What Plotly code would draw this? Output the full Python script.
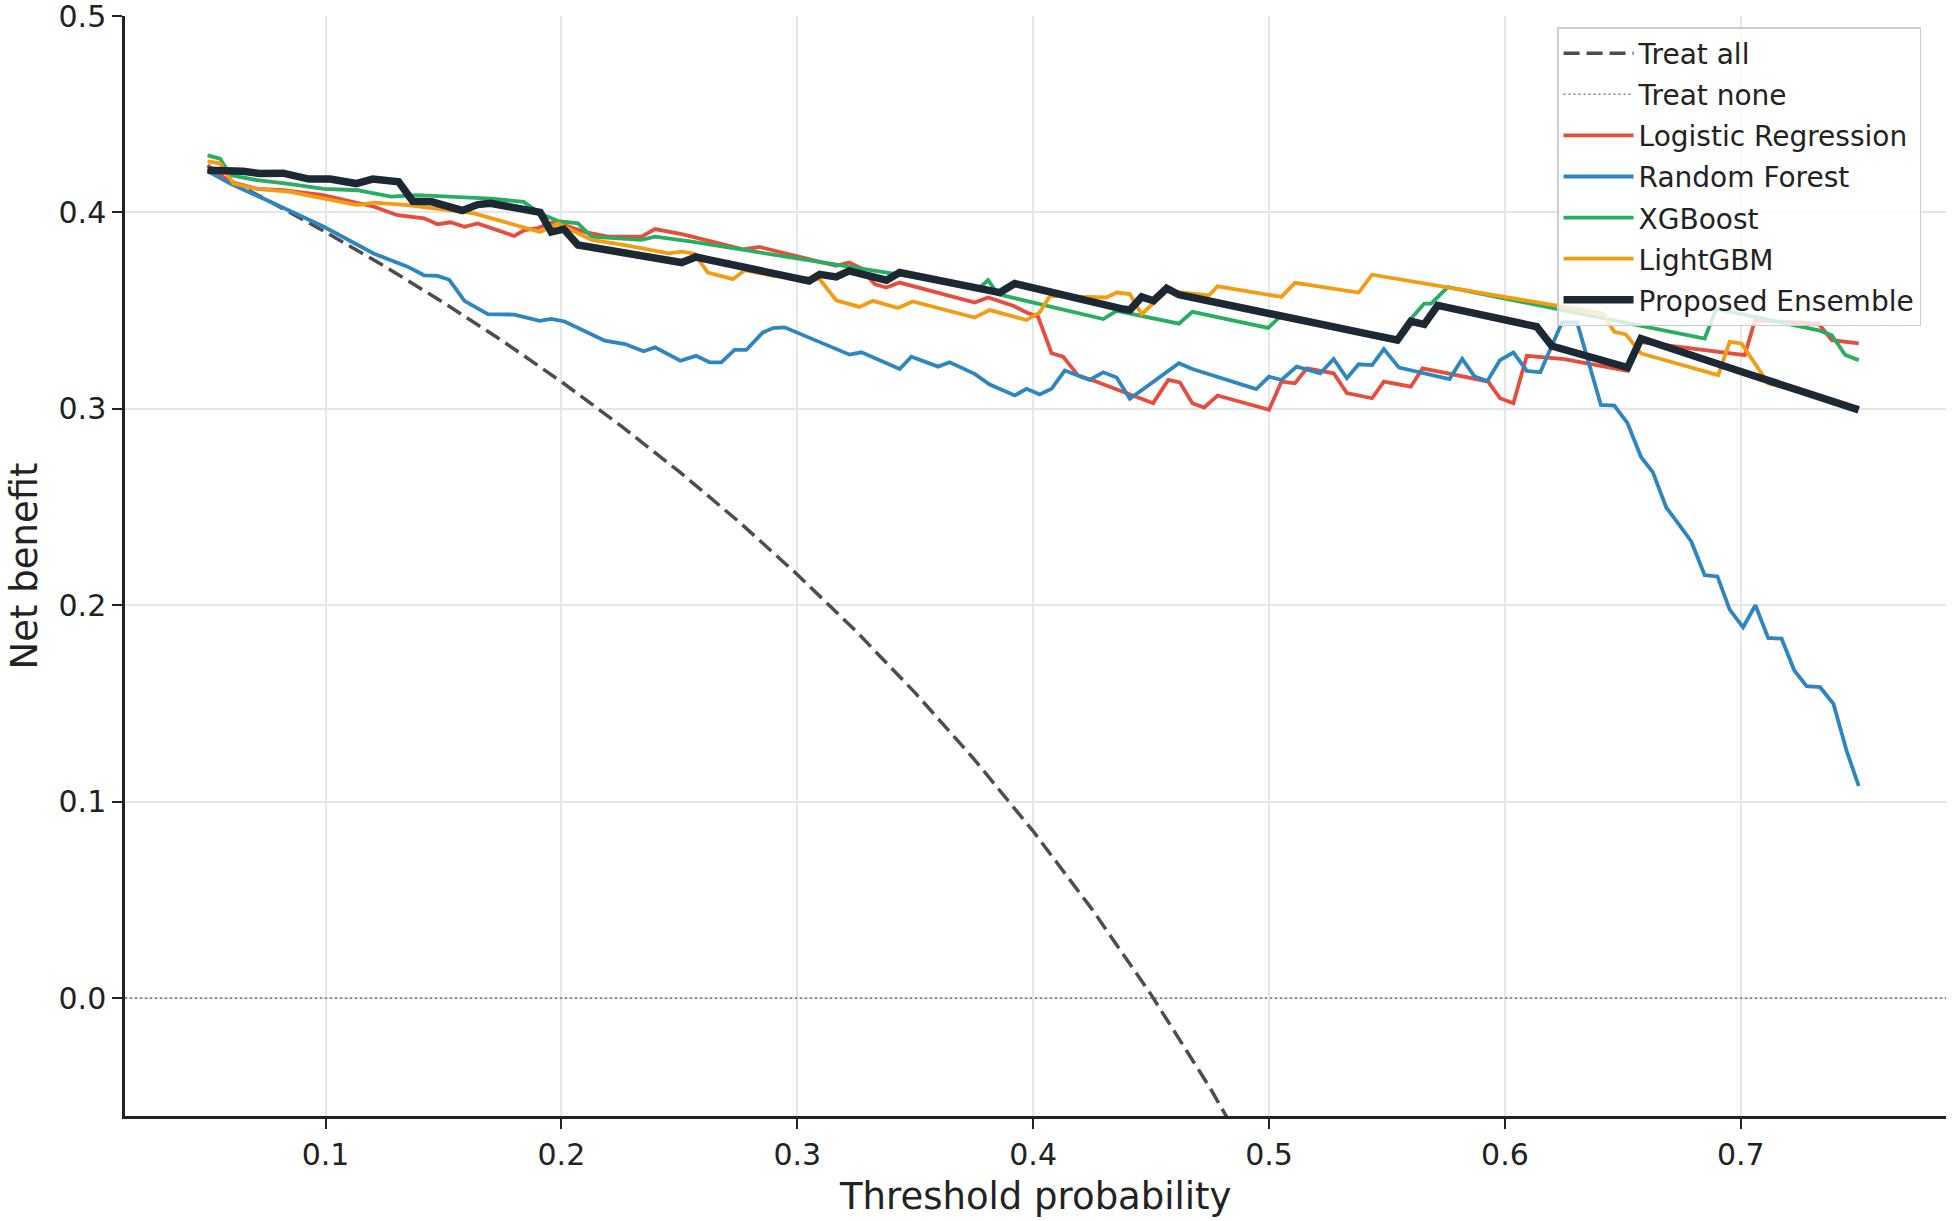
import plotly.graph_objects as go

# ---------------- data ----------------
treat_all_t = [0.05, 0.075, 0.10, 0.125, 0.15, 0.175, 0.20, 0.225, 0.25, 0.275, 0.30,
               0.325, 0.35, 0.375, 0.40, 0.425, 0.45, 0.475, 0.50]
treat_all_nb = [0.422, 0.4065, 0.390, 0.3726, 0.3541, 0.3346, 0.3138, 0.2916, 0.268, 0.2428,
                0.2157, 0.1867, 0.1554, 0.1216, 0.085, 0.0452, 0.0018, -0.0457, -0.098]

treat_none_t = [0.015, 0.787]
treat_none_nb = [0.0, 0.0]

lr_t = [0.05, 0.0596, 0.071, 0.082, 0.099, 0.1135, 0.1206, 0.1305, 0.1418, 0.1475, 0.153,
        0.1589, 0.1645, 0.180, 0.1844, 0.190, 0.197, 0.21, 0.2199, 0.234, 0.2397, 0.2515,
        0.277, 0.284, 0.3165, 0.322, 0.327, 0.3328, 0.3378, 0.3434, 0.3752, 0.3809, 0.3915,
        0.3972, 0.4021, 0.4078, 0.4127, 0.4191, 0.4255, 0.4509, 0.4573, 0.4622, 0.4675,
        0.4725, 0.4782, 0.50, 0.5053, 0.511, 0.516, 0.5274, 0.533, 0.5437, 0.5487, 0.5601,
        0.5651, 0.5758, 0.5872, 0.5929, 0.5979, 0.6036, 0.6093, 0.6251, 0.652, 0.6577,
        0.7017, 0.706, 0.733, 0.7386, 0.75]
lr_nb = [0.424, 0.4156, 0.412, 0.4113, 0.4088, 0.4046, 0.4029, 0.3986, 0.397, 0.394, 0.395,
         0.3927, 0.3944, 0.388, 0.391, 0.392, 0.3953, 0.390, 0.3877, 0.3877, 0.3915, 0.3888,
         0.3812, 0.3824, 0.3728, 0.3745, 0.3716, 0.3635, 0.3618, 0.3643, 0.3541, 0.3567, 0.3525,
         0.3491, 0.3469, 0.3283, 0.3266, 0.3169, 0.3144, 0.3029, 0.3147, 0.3135, 0.3029,
         0.3007, 0.3068, 0.2995, 0.3139, 0.313, 0.3206, 0.3181, 0.308, 0.3054, 0.3139, 0.3113,
         0.3206, 0.3181, 0.3156, 0.3139, 0.3054, 0.3029, 0.327, 0.3253, 0.3193, 0.334,
         0.3274, 0.3451, 0.3434, 0.335, 0.3333]

rf_t = [0.05, 0.0596, 0.0766, 0.0993, 0.1206, 0.1348, 0.1418, 0.1475, 0.1525, 0.1589, 0.1688,
        0.180, 0.1908, 0.1957, 0.2014, 0.2184, 0.227, 0.2348, 0.2397, 0.2504, 0.2571, 0.2628,
        0.2678, 0.2734, 0.2784, 0.2854, 0.2897, 0.2946, 0.3222, 0.3272, 0.3434, 0.3484, 0.3597,
        0.3646, 0.3752, 0.3816, 0.3922, 0.3972, 0.4028, 0.4078, 0.4134, 0.4198, 0.424, 0.4297,
        0.4354, 0.441, 0.4618, 0.4675, 0.4946, 0.50, 0.5053, 0.5117, 0.5217, 0.5274, 0.533,
        0.538, 0.5437, 0.5487, 0.5551, 0.5765, 0.5819, 0.5872, 0.5926, 0.5979, 0.6036, 0.6093,
        0.615, 0.6242, 0.6306, 0.6407, 0.6464, 0.652, 0.6577, 0.6627, 0.6684, 0.6733, 0.679,
        0.6847, 0.6901, 0.6953, 0.701, 0.7062, 0.7116, 0.7173, 0.7227, 0.7279, 0.7336, 0.7393,
        0.7449, 0.75]
rf_nb = [0.421, 0.4147, 0.4054, 0.3927, 0.379, 0.3724, 0.368, 0.3677, 0.3657, 0.355, 0.3482,
         0.348, 0.3448, 0.3458, 0.3445, 0.3347, 0.333, 0.3293, 0.3313, 0.3245, 0.327, 0.3237,
         0.3237, 0.330, 0.330, 0.3389, 0.3411, 0.3415, 0.3276, 0.3288, 0.3203, 0.3266, 0.3215,
         0.3237, 0.3178, 0.3124, 0.3068, 0.3102, 0.3073, 0.3102, 0.3195, 0.3169, 0.3147, 0.3186,
         0.316, 0.3051, 0.3232, 0.3203, 0.3101, 0.3164, 0.3147, 0.3215, 0.3181, 0.3254, 0.3156,
         0.3227, 0.3223, 0.3304, 0.321, 0.3152, 0.3254, 0.3164, 0.3142, 0.3248, 0.3287, 0.3193,
         0.3186, 0.344, 0.344, 0.302, 0.3017, 0.2927, 0.2755, 0.2678, 0.2498, 0.2419, 0.2325,
         0.2153, 0.2147, 0.1978, 0.1888, 0.200, 0.1834, 0.183, 0.1668, 0.1588, 0.1583, 0.1498,
         0.1258, 0.108]

xgb_t = [0.05, 0.0553, 0.0596, 0.071, 0.0837, 0.0993, 0.1135, 0.1277, 0.139, 0.156, 0.170,
         0.184, 0.191, 0.1986, 0.207, 0.2128, 0.2227, 0.234, 0.2397, 0.2553, 0.3774, 0.3809,
         0.385, 0.4297, 0.4354, 0.4618, 0.4675, 0.4996, 0.5046, 0.5544, 0.5608, 0.5658, 0.5687,
         0.5758, 0.6847, 0.6896, 0.733, 0.7386, 0.7443, 0.75]
xgb_nb = [0.429, 0.4274, 0.419, 0.4164, 0.4147, 0.412, 0.4113, 0.408, 0.4088, 0.408, 0.407,
          0.4054, 0.3995, 0.3956, 0.3944, 0.3877, 0.3868, 0.386, 0.3877, 0.3851, 0.3618, 0.3655,
          0.3584, 0.3457, 0.3499, 0.3434, 0.3494, 0.3412, 0.3468, 0.336, 0.3468, 0.3536, 0.3536,
          0.362, 0.3358, 0.351, 0.340, 0.3375, 0.3274, 0.3248]

lgbm_t = [0.05, 0.0553, 0.061, 0.071, 0.085, 0.0993, 0.1135, 0.1206, 0.1348, 0.163, 0.191,
          0.1986, 0.2128, 0.227, 0.2454, 0.251, 0.2564, 0.2621, 0.2727, 0.2777, 0.2897, 0.3095,
          0.3165, 0.3264, 0.3321, 0.3427, 0.349, 0.3752, 0.3816, 0.3972, 0.4028, 0.4071, 0.4311,
          0.4354, 0.441, 0.446, 0.4523, 0.4566, 0.4746, 0.4782, 0.5053, 0.511, 0.538, 0.5437,
          0.6251, 0.6414, 0.6464, 0.6513, 0.6577, 0.6904, 0.6953, 0.7003, 0.7116, 0.75]
lgbm_nb = [0.426, 0.425, 0.4147, 0.412, 0.4105, 0.407, 0.4037, 0.405, 0.4037, 0.3995, 0.390,
           0.3944, 0.386, 0.3834, 0.3792, 0.380, 0.379, 0.3694, 0.366, 0.3706, 0.3677, 0.366,
           0.3553, 0.3519, 0.355, 0.3513, 0.3547, 0.3465, 0.3503, 0.3452, 0.3491, 0.3575, 0.3567,
           0.3592, 0.3584, 0.3482, 0.355, 0.360, 0.3578, 0.3624, 0.357, 0.3642, 0.3592, 0.3683,
           0.3519, 0.3485, 0.3392, 0.3379, 0.3282, 0.3172, 0.3341, 0.3333, 0.313, 0.3003]

ens_t = [0.05, 0.065, 0.072, 0.082, 0.093, 0.102, 0.113, 0.12, 0.131, 0.137, 0.145, 0.158,
         0.1645, 0.170, 0.191, 0.1957, 0.201, 0.207, 0.251, 0.257, 0.305, 0.3095, 0.3165,
         0.322, 0.3378, 0.3434, 0.3859, 0.3922, 0.4382, 0.441, 0.446, 0.451, 0.4566, 0.4618,
         0.5544, 0.5601, 0.5658, 0.5715, 0.6135, 0.6199, 0.652, 0.6577, 0.70, 0.75]
ens_nb = [0.4215, 0.421, 0.4198, 0.420, 0.417, 0.417, 0.4147, 0.417, 0.4156, 0.4057, 0.4054,
          0.401, 0.404, 0.4046, 0.400, 0.390, 0.3915, 0.3834, 0.3745, 0.3773, 0.3651, 0.3685,
          0.3672, 0.3702, 0.3655, 0.3694, 0.3592, 0.3638, 0.3508, 0.3503, 0.357, 0.355, 0.3614,
          0.3581, 0.335, 0.3446, 0.343, 0.3527, 0.3418, 0.332, 0.321, 0.3358, 0.319, 0.2995]

x_ticks = [0.1, 0.2, 0.3, 0.4, 0.5, 0.6, 0.7]
x_tick_labels = ["0.1", "0.2", "0.3", "0.4", "0.5", "0.6", "0.7"]
y_ticks = [0.0, 0.1, 0.2, 0.3, 0.4, 0.5]
y_tick_labels = ["0.0", "0.1", "0.2", "0.3", "0.4", "0.5"]

# ---------------- figure ----------------
FONT = "DejaVu Sans"
fig = go.Figure()

series = [
    ("Treat all", treat_all_t, treat_all_nb, dict(color="#4d4d4d", width=3.5, dash="16px,7px")),
    ("Treat none", treat_none_t, treat_none_nb, dict(color="#808080", width=1.6, dash="2px,3px")),
    ("Logistic Regression", lr_t, lr_nb, dict(color="#e74c3c", width=3.8)),
    ("Random Forest", rf_t, rf_nb, dict(color="#2e86c1", width=3.8)),
    ("XGBoost", xgb_t, xgb_nb, dict(color="#27ae60", width=3.8)),
    ("LightGBM", lgbm_t, lgbm_nb, dict(color="#f39c12", width=3.8)),
    ("Proposed Ensemble", ens_t, ens_nb, dict(color="#1c2833", width=7.5)),
]
for name, xs, ys, ln in series:
    fig.add_trace(go.Scatter(x=xs, y=ys, mode="lines", name=name, line=ln,
                             legendgroup=name))

axis_common = dict(
    showline=True, linecolor="#222222", linewidth=2.5,
    ticks="outside", ticklen=10, tickwidth=2, tickcolor="#222222",
    showgrid=True, gridcolor="#e6e6e6", gridwidth=1.5,
    zeroline=False, mirror=False, ticklabeloverflow="allow",
    tickfont=dict(family=FONT, size=30, color="#222222"),
)

fig.update_layout(
    width=1956, height=1221,
    margin=dict(l=125, r=10, t=16, b=105, autoexpand=False),
    paper_bgcolor="white", plot_bgcolor="white",
    font=dict(family=FONT, color="#222222"),
    showlegend=True,
    legend=dict(
        x=0.9863, xanchor="right", y=0.99, yanchor="top",
        bgcolor="rgba(255,255,255,0.8)", bordercolor="#cccccc", borderwidth=1.5,
        font=dict(family=FONT, size=28, color="#222222"),
        tracegroupgap=1.7, traceorder="grouped", itemwidth=70,
    ),
    xaxis=dict(range=[0.015, 0.787], tickvals=x_ticks, ticktext=x_tick_labels, **axis_common),
    yaxis=dict(range=[-0.06, 0.5], tickvals=y_ticks, ticktext=y_tick_labels, **axis_common),
    annotations=[
        dict(text="Threshold probability", xref="paper", yref="paper", x=0.5, y=0,
             yshift=-80, xanchor="center", yanchor="middle", showarrow=False,
             font=dict(family=FONT, size=37, color="#222222")),
        dict(text="Net benefit", xref="paper", yref="paper", x=0, y=0.5,
             xshift=-125, xanchor="left", yanchor="middle", textangle=-90, showarrow=False,
             font=dict(family=FONT, size=37, color="#222222")),
    ],
)

fig.write_html("out.html", config={"displayModeBar": False},
               post_script="document.body.style.margin='0';document.body.style.overflow='hidden';")
